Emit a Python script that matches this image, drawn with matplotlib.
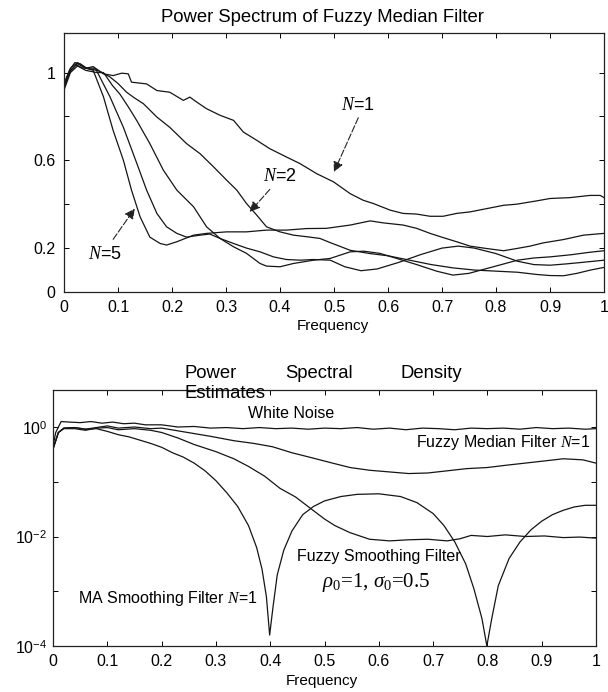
import numpy as np
import matplotlib
matplotlib.use("Agg")
import matplotlib.pyplot as plt

plt.rcParams['font.family'] = ['Liberation Sans', 'DejaVu Sans']
plt.rcParams['mathtext.fontset'] = 'custom'
plt.rcParams['mathtext.rm'] = 'Liberation Sans'
plt.rcParams['mathtext.it'] = 'Liberation Serif:italic'
plt.rcParams['mathtext.bf'] = 'Liberation Serif'
plt.rcParams['mathtext.fallback'] = 'stix'

# ---------------- data: top panel (power spectrum of fuzzy median filter) ----------------
n1_f = [0, 0.01, 0.02, 0.03, 0.042, 0.054, 0.073, 0.091, 0.107, 0.119, 0.125, 0.153, 0.172, 0.196,
        0.221, 0.233, 0.246, 0.264, 0.289, 0.314, 0.332, 0.357, 0.381, 0.412, 0.437, 0.468, 0.499,
        0.53, 0.554, 0.573, 0.604, 0.628, 0.653, 0.678, 0.702, 0.727, 0.752, 0.783, 0.814, 0.838,
        0.875, 0.9, 0.937, 0.974, 0.993, 1.0]
n1_v = [0.95, 1.01, 1.045, 1.04, 1.02, 1.027, 0.994, 0.986, 0.997, 0.994, 0.956, 0.948, 0.918, 0.91,
        0.873, 0.888, 0.865, 0.835, 0.805, 0.782, 0.729, 0.691, 0.653, 0.615, 0.585, 0.539, 0.502,
        0.448, 0.418, 0.403, 0.373, 0.358, 0.355, 0.345, 0.345, 0.358, 0.365, 0.38, 0.395, 0.4,
        0.415, 0.426, 0.43, 0.44, 0.44, 0.43]

n2_f = [0, 0.01, 0.022, 0.035, 0.054, 0.07, 0.085, 0.1, 0.116, 0.13, 0.147, 0.172, 0.196, 0.227,
        0.252, 0.277, 0.301, 0.32, 0.338, 0.357, 0.375, 0.4, 0.425, 0.449, 0.474, 0.493, 0.53,
        0.567, 0.6, 0.64, 0.68, 0.72, 0.76, 0.8, 0.84, 0.875, 0.9, 0.925, 0.95, 0.975, 1.0]
n2_v = [0.93, 1.0, 1.035, 1.02, 1.02, 1.0, 0.98, 0.95, 0.91, 0.885, 0.858, 0.797, 0.75, 0.676,
        0.63, 0.57, 0.51, 0.464, 0.403, 0.35, 0.297, 0.274, 0.259, 0.252, 0.244, 0.225, 0.19,
        0.175, 0.165, 0.145, 0.125, 0.11, 0.1, 0.095, 0.09, 0.08, 0.075, 0.074, 0.085, 0.1, 0.112]

n3_f = [0, 0.012, 0.025, 0.04, 0.06, 0.073, 0.09, 0.104, 0.12, 0.135, 0.159, 0.184, 0.209, 0.24,
        0.264, 0.289, 0.314, 0.338, 0.363, 0.375, 0.4, 0.425, 0.462, 0.493, 0.53, 0.555, 0.585,
        0.616, 0.653, 0.69, 0.72, 0.75, 0.78, 0.81, 0.84, 0.87, 0.9, 0.94, 0.97, 1.0]
n3_v = [0.92, 1.0, 1.03, 1.01, 1.0, 1.0, 0.94, 0.9, 0.84, 0.78, 0.676, 0.555, 0.464, 0.388,
        0.297, 0.244, 0.206, 0.176, 0.13, 0.118, 0.115, 0.13, 0.145, 0.153, 0.183, 0.186, 0.176,
        0.153, 0.125, 0.095, 0.077, 0.085, 0.105, 0.125, 0.145, 0.155, 0.16, 0.17, 0.18, 0.188]

n4_f = [0, 0.012, 0.025, 0.04, 0.06, 0.085, 0.11, 0.135, 0.153, 0.172, 0.19, 0.209, 0.227, 0.252,
        0.27, 0.289, 0.314, 0.338, 0.363, 0.388, 0.412, 0.437, 0.462, 0.493, 0.52, 0.55, 0.58,
        0.62, 0.66, 0.7, 0.73, 0.76, 0.8, 0.84, 0.87, 0.9, 0.93, 0.96, 1.0]
n4_v = [0.93, 1.01, 1.04, 1.02, 1.01, 0.89, 0.75, 0.585, 0.464, 0.358, 0.297, 0.267, 0.25, 0.259,
        0.264, 0.244, 0.221, 0.2, 0.183, 0.16, 0.148, 0.145, 0.148, 0.145, 0.115, 0.097, 0.105,
        0.135, 0.17, 0.2, 0.209, 0.2, 0.175, 0.14, 0.125, 0.122, 0.128, 0.135, 0.145]

n5_f = [0, 0.012, 0.025, 0.04, 0.054, 0.073, 0.091, 0.11, 0.125, 0.141, 0.159, 0.178, 0.19, 0.209,
        0.24, 0.264, 0.301, 0.338, 0.375, 0.412, 0.449, 0.486, 0.53, 0.567, 0.591, 0.628, 0.653,
        0.678, 0.702, 0.727, 0.752, 0.783, 0.814, 0.838, 0.863, 0.888, 0.925, 0.962, 1.0]
n5_v = [0.94, 1.02, 1.045, 1.02, 1.01, 0.89, 0.736, 0.6, 0.464, 0.342, 0.25, 0.221, 0.214, 0.229,
        0.259, 0.267, 0.274, 0.274, 0.282, 0.282, 0.289, 0.29, 0.305, 0.324, 0.315, 0.305, 0.29,
        0.267, 0.248, 0.229, 0.209, 0.198, 0.188, 0.198, 0.209, 0.224, 0.239, 0.259, 0.267]

# ---------------- data: bottom panel (log10 of power spectral density estimates) ----------------
wn_f = [0, 0.005, 0.015, 0.03, 0.05, 0.07, 0.09, 0.11, 0.13, 0.15, 0.17, 0.2, 0.23, 0.26, 0.29,
        0.32, 0.35, 0.38, 0.41, 0.44, 0.47, 0.5, 0.53, 0.56, 0.59, 0.62, 0.65, 0.68, 0.71, 0.74,
        0.77, 0.8, 0.83, 0.86, 0.89, 0.92, 0.95, 0.98, 1.0]
wn_log = [-0.35, -0.1, 0.1, 0.09, 0.08, 0.1, 0.07, 0.09, 0.06, 0.07, 0.04, 0.04, 0.0, 0.01, -0.02,
          -0.01, -0.03, -0.01, -0.03, -0.02, -0.04, -0.02, -0.03, -0.01, -0.04, -0.02, -0.05, -0.02,
          -0.03, -0.05, -0.02, -0.03, -0.02, -0.04, -0.01, -0.03, -0.02, -0.04, -0.03]

fm_f = [0, 0.01, 0.02, 0.04, 0.06, 0.08, 0.1, 0.12, 0.15, 0.18, 0.2, 0.23, 0.26, 0.29, 0.333,
        0.37, 0.404, 0.44, 0.476, 0.511, 0.547, 0.583, 0.619, 0.655, 0.69, 0.726, 0.762, 0.8,
        0.833, 0.869, 0.905, 0.94, 0.976, 1.0]
fm_log = [-0.4, -0.1, -0.02, -0.01, -0.04, -0.01, 0.02, -0.02, 0.0, -0.03, -0.02, -0.07, -0.12,
          -0.17, -0.25, -0.3, -0.36, -0.47, -0.56, -0.65, -0.74, -0.79, -0.82, -0.85, -0.84, -0.8,
          -0.76, -0.74, -0.7, -0.66, -0.62, -0.58, -0.6, -0.66]

fs_f = [0, 0.01, 0.02, 0.04, 0.06, 0.08, 0.1, 0.12, 0.15, 0.18, 0.2, 0.23, 0.26, 0.3, 0.333,
        0.36, 0.39, 0.418, 0.447, 0.476, 0.5, 0.519, 0.547, 0.583, 0.62, 0.655, 0.69, 0.726,
        0.75, 0.77, 0.8, 0.833, 0.87, 0.905, 0.94, 0.97, 1.0]
fs_log = [-0.4, -0.1, -0.03, -0.03, -0.06, -0.02, -0.01, -0.05, -0.03, -0.06, -0.1, -0.2, -0.32,
          -0.45, -0.58, -0.72, -0.9, -1.12, -1.28, -1.5, -1.68, -1.8, -1.93, -2.05, -2.08, -2.06,
          -2.05, -2.08, -2.04, -1.98, -2.0, -1.97, -2.0, -1.99, -2.02, -2.01, -2.03]

ma_f = [0, 0.01, 0.02, 0.04, 0.06, 0.08, 0.1, 0.12, 0.14, 0.16, 0.18, 0.2, 0.22, 0.24, 0.26,
        0.28, 0.3, 0.32, 0.34, 0.36, 0.375, 0.385, 0.393, 0.399, 0.405, 0.413, 0.425, 0.44, 0.46,
        0.48, 0.5, 0.53, 0.56, 0.6, 0.64, 0.67, 0.7, 0.72, 0.74, 0.76, 0.775, 0.79, 0.799, 0.808,
        0.82, 0.84, 0.86, 0.88, 0.9, 0.92, 0.94, 0.96, 0.98, 1.0]
ma_log = [-0.4, -0.1, -0.02, -0.01, -0.04, -0.03, -0.08, -0.14, -0.18, -0.24, -0.3, -0.37, -0.47,
          -0.55, -0.66, -0.8, -0.98, -1.2, -1.45, -1.8, -2.2, -2.6, -3.1, -3.8, -3.3, -2.7, -2.25,
          -1.9, -1.6, -1.45, -1.35, -1.27, -1.23, -1.22, -1.27, -1.38, -1.58, -1.8, -2.1, -2.5,
          -2.95, -3.5, -4.0, -3.5, -2.9, -2.4, -2.1, -1.88, -1.72, -1.6, -1.52, -1.46, -1.43, -1.43]

top_yticks = [0, 0.2, 0.4, 0.6, 0.8, 1.0]
top_yticklabels = ['0', '0.2', '', '0.6', '', '1']
xticks = [0, 0.1, 0.2, 0.3, 0.4, 0.5, 0.6, 0.7, 0.8, 0.9, 1.0]
xticklabels = ['0', '0.1', '0.2', '0.3', '0.4', '0.5', '0.6', '0.7', '0.8', '0.9', '1']
bot_yticks = [1e-4, 1e-3, 1e-2, 1e-1, 1e0]
bot_yticklabels = [r'$10^{-4}$', '', r'$10^{-2}$', '', r'$10^{0}$']

W, H = 608, 692
fig = plt.figure(figsize=(W / 100, H / 100), dpi=100)
fig.patch.set_facecolor('white')

def fx(px):
    return px / W

def fy(py):
    return 1 - py / H

lc = '#151515'
lw = 0.9

def style(ax):
    ax.tick_params(direction='in', top=True, right=True, length=3.5, width=0.7,
                   labelsize=11.5, pad=6, colors='black')
    for s in ax.spines.values():
        s.set_linewidth(0.9)
        s.set_color('#222222')

# ---------------- top axes ----------------
ax1 = fig.add_axes([fx(64), fy(292), fx(604) - fx(64), fy(33) - fy(292)])
for f, v in [(n1_f, n1_v), (n2_f, n2_v), (n3_f, n3_v), (n4_f, n4_v), (n5_f, n5_v)]:
    ax1.plot(f, v, color=lc, lw=lw)
ax1.set_xlim(0, 1)
ax1.set_ylim(0, 1.18)
ax1.set_xticks(xticks)
ax1.set_xticklabels(xticklabels)
ax1.set_yticks(top_yticks)
ax1.set_yticklabels(top_yticklabels)
style(ax1)

arrow_kw = dict(arrowstyle='-|>,head_length=0.6,head_width=0.3', color='#222222', lw=0.8,
                linestyle=(0, (6, 2)), shrinkA=0, shrinkB=0)
ax1.annotate('', xy=(0.50, 0.547), xytext=(0.545, 0.794), arrowprops=arrow_kw)
ax1.annotate('', xy=(0.344, 0.365), xytext=(0.381, 0.467), arrowprops=arrow_kw)
ax1.annotate('', xy=(0.131, 0.38), xytext=(0.091, 0.24), arrowprops=arrow_kw)
ax1.text(0.545, 0.85, r'$N$=1', ha='center', va='center', fontsize=13)
ax1.text(0.40, 0.524, r'$N$=2', ha='center', va='center', fontsize=13)
ax1.text(0.075, 0.17, r'$N$=5', ha='center', va='center', fontsize=13)

fig.text(fx(322), fy(18), 'Power Spectrum of Fuzzy Median Filter', ha='center', va='center',
         fontsize=13.3)
fig.text(fx(333), fy(326), 'Frequency', ha='center', va='center', fontsize=11)

# ---------------- bottom axes ----------------
ax2 = fig.add_axes([fx(53), fy(646), fx(596) - fx(53), fy(390) - fy(646)])
for f, lg in [(wn_f, wn_log), (fm_f, fm_log), (fs_f, fs_log), (ma_f, ma_log)]:
    ax2.plot(f, 10 ** np.array(lg), color=lc, lw=lw)
ax2.set_yscale('log')
ax2.set_xlim(0, 1)
ax2.set_ylim(1e-4, 10 ** 0.676)
ax2.set_xticks(xticks)
ax2.set_xticklabels(xticklabels)
ax2.set_yticks(bot_yticks)
ax2.set_yticklabels(bot_yticklabels)
ax2.yaxis.set_minor_locator(matplotlib.ticker.NullLocator())
style(ax2)
ax2.tick_params(axis='y', pad=4)

fig.text(fx(184), fy(373), 'Power', ha='left', va='center', fontsize=13.3)
fig.text(fx(184), fy(393), 'Estimates', ha='left', va='center', fontsize=13.3)
fig.text(fx(285), fy(373), 'Spectral', ha='left', va='center', fontsize=13.3)
fig.text(fx(400), fy(373), 'Density', ha='left', va='center', fontsize=13.3)
fig.text(fx(322), fy(681), 'Frequency', ha='center', va='center', fontsize=11)

fig.text(fx(291), fy(413), 'White Noise', ha='center', va='center', fontsize=11.5)
fig.text(fx(590), fy(443), r'Fuzzy Median Filter $N$=1', ha='right', va='center', fontsize=11.5)
fig.text(fx(297), fy(557), 'Fuzzy Smoothing Filter', ha='left', va='center', fontsize=11.5)
fig.text(fx(322), fy(582), r'$\rho_{\mathbf{0}}$=1, $\sigma_{\mathbf{0}}$=0.5', ha='left',
         va='center', fontsize=15, family=['Liberation Serif', 'DejaVu Serif'])
fig.text(fx(78), fy(598), r'MA Smoothing Filter $N$=1', ha='left', va='center', fontsize=11.5)

fig.savefig('out.png', dpi=100, facecolor='white')
